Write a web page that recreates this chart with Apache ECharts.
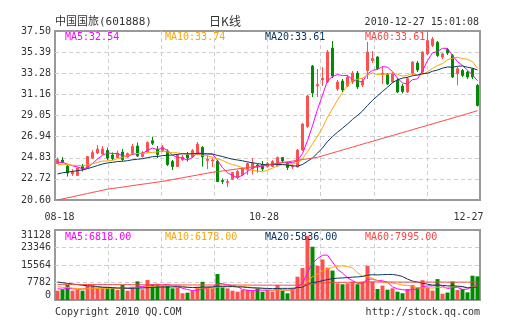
<!DOCTYPE html>
<html>
<head>
<meta charset="utf-8">
<script src="https://cdn.jsdelivr.net/npm/echarts@6/dist/echarts.min.js"></script>
<style>html,body{margin:0;padding:0;background:#fff;}#c{width:505px;height:330px;}</style>
</head>
<body>
<div id="c"></div>
<script>
// ---------- data ----------
const dates = ['08-18','08-19','08-20','08-23','08-24','08-25','08-26','08-27','08-30','08-31',
 '09-01','09-02','09-03','09-06','09-07','09-08','09-09','09-10','09-13','09-14','09-15','09-16','09-17','09-20','09-27','09-28','09-29','09-30',
 '10-08','10-11','10-12','10-13','10-14','10-15','10-18','10-19','10-20','10-21','10-22','10-25','10-26','10-27','10-28','10-29',
 '11-01','11-02','11-03','11-04','11-05','11-08','11-09','11-10','11-11','11-12','11-15','11-16','11-17','11-18','11-19','11-22','11-23','11-24','11-25','11-26','11-29','11-30',
 '12-01','12-02','12-03','12-06','12-07','12-08','12-09','12-10','12-13','12-14','12-15','12-16','12-17','12-20','12-21','12-22','12-23','12-24','12-27'];

const opens = [24.25,24.60,24.00,23.20,23.05,23.95,23.80,24.80,25.30,25.20,
 25.55,25.10,24.85,25.40,24.90,25.15,26.00,24.95,25.40,26.53,
 25.70,25.50,25.50,24.45,23.95,24.65,25.10,24.90,25.20,25.85,
 24.55,24.50,24.50,22.55,22.35,22.70,22.85,23.15,23.60,23.70,
 24.10,24.10,23.95,23.95,24.00,24.85,24.30,23.90,23.90,25.60,
 27.95,34.00,32.00,32.60,32.40,35.80,31.70,32.50,32.00,32.40,
 33.30,32.10,33.55,34.55,34.90,33.15,33.20,32.40,32.57,32.00,
 31.41,33.23,34.30,33.39,35.21,36.04,36.37,34.88,35.65,35.05,
 33.23,33.56,33.39,33.70,32.07];
const closes = [24.65,24.35,23.30,23.45,23.80,23.70,24.95,25.35,25.70,25.70,
 24.80,24.75,25.30,24.65,25.25,25.95,25.00,25.35,26.35,26.27,
 25.15,25.90,24.15,23.95,25.10,24.90,24.80,25.55,26.20,24.90,
 24.70,24.60,22.45,22.45,22.45,23.35,23.45,23.75,24.25,24.30,
 23.90,23.70,24.25,24.45,24.85,24.50,23.85,24.00,25.60,28.20,
 31.00,31.30,32.15,32.80,35.40,33.00,32.40,31.60,32.90,33.30,
 31.90,32.50,35.40,34.75,33.75,33.30,32.20,33.20,31.40,31.45,
 32.73,34.39,33.60,35.38,36.54,36.70,35.05,35.21,35.30,32.90,
 33.72,33.06,32.90,32.90,30.05];
const lows = [24.20,24.25,22.95,23.00,23.00,23.45,23.75,24.70,25.20,25.15,
 24.60,24.60,24.80,24.50,24.85,25.10,24.90,24.85,25.30,26.10,
 24.80,25.40,24.00,23.60,23.90,24.50,24.45,24.85,25.10,23.95,
 23.70,23.90,22.40,22.20,21.90,22.60,22.70,23.00,23.10,23.15,
 23.35,23.50,23.85,23.90,23.95,24.30,23.60,23.70,23.85,25.50,
 27.80,30.90,30.90,32.00,32.30,32.80,31.50,31.40,31.90,32.20,
 31.70,31.90,32.70,34.30,33.60,32.20,32.10,32.30,31.30,31.25,
 31.30,33.10,33.40,33.30,35.10,35.90,34.90,34.70,35.10,32.80,
 32.07,32.90,32.70,32.70,29.95];
const highs = [24.85,24.90,24.10,23.70,23.85,24.20,25.00,25.60,26.10,26.00,
 25.85,25.35,25.55,25.70,25.35,26.20,26.35,25.50,26.45,26.93,
 26.00,26.10,25.65,24.60,25.20,25.10,25.40,25.70,26.40,26.00,
 25.10,24.80,24.60,22.75,22.70,23.40,23.60,23.85,24.35,24.80,
 24.20,24.50,24.40,24.60,24.95,24.90,24.40,24.15,25.70,28.30,
 31.10,34.10,33.70,33.90,35.60,36.50,32.60,32.70,33.10,33.50,
 33.50,32.80,36.40,35.50,35.00,33.90,33.30,33.40,32.80,32.20,
 32.90,34.50,34.50,35.50,37.50,36.90,36.50,35.30,35.80,35.20,
 33.90,33.70,33.50,33.80,32.20];
// closes before 08-18 (oldest first), used for the MA5/10/20 lead-in
const preCloses = [21.9,22.0,22.1,22.2,22.3,22.3,22.4,22.5,22.6,22.7,
 23.5,23.8,24.0,24.1,24.1,24.0,24.2,24.3,24.35];
// MA60 line
const ma60 = [20.60,20.71,20.82,20.92,21.03,21.14,21.25,21.36,21.46,21.57,
 21.68,21.75,21.82,21.89,21.96,22.04,22.11,22.18,22.25,22.32,
 22.39,22.46,22.55,22.64,22.73,22.82,22.92,23.01,23.10,23.19,
 23.28,23.37,23.44,23.50,23.57,23.64,23.71,23.77,23.84,23.91,
 23.97,24.04,24.11,24.19,24.26,24.34,24.41,24.49,24.57,24.64,
 24.72,24.79,24.87,25.02,25.16,25.31,25.45,25.60,25.75,25.89,
 26.04,26.18,26.33,26.47,26.62,26.76,26.91,27.05,27.20,27.34,
 27.49,27.63,27.78,27.92,28.07,28.21,28.36,28.50,28.65,28.79,
 28.94,29.08,29.23,29.38,29.53];

const volumes = [4150,4740,6660,4150,4500,4150,6400,6500,5180,5180,
 5180,5180,4440,6660,4150,5920,8290,4740,8880,6660,
 6660,6220,6220,5180,5500,3000,3260,4150,5920,8100,
 5920,5180,11540,5620,5180,4150,3700,4440,4440,4150,
 5180,3700,4440,3700,6660,4150,2960,5180,10360,14200,
 28560,23680,15240,18000,14360,13100,7400,7000,7400,8140,
 7000,8140,15240,8140,4880,6400,4600,5200,3700,3000,
 4900,6700,5600,8800,5700,4200,9300,2800,3300,8200,
 4400,4900,3400,10800,10500];
const preVolumes = [11000,12500,9800,10500,9000,11200,8800,10200,9600,8400,
 7500,6200,7800,6000,6500,5600,4800,5300,5150];
const volMa60 = [6950,6950,6940,6930,6920,6910,6900,6890,6880,6870,
 6860,6850,6840,6830,6820,6810,6800,6790,6780,6770,
 6760,6750,6740,6730,6720,6710,6700,6690,6680,6680,
 6680,6670,6700,6690,6680,6670,6660,6650,6640,6630,
 6620,6610,6600,6590,6600,6590,6580,6570,6620,6700,
 6950,7250,7420,7600,7720,7830,7860,7870,7880,7900,
 7900,7920,8050,8060,8030,8030,8010,8000,7980,7960,
 7950,7960,7960,7990,7990,7970,8000,7970,7950,7960,
 7950,7960,7950,7980,7995];

const priceTickLabels = ['20.60','22.72','24.83','26.94','29.05','31.16','33.28','35.39','37.50'];
const volTickLabels = ['0','7782','15564','23346','31128'];
const xTickLabels = ['08-18','10-28','12-27'];

const maNames = ['MA5','MA10','MA20','MA60'];
const priceMaLast = ['32.54','33.74','33.61','33.61'];
const volMaLast = ['6818.00','6178.00','5836.00','7995.00'];

const stockTitle = '中国国旅(601888)';
const chartTitle = '日K线';
const timeStamp = '2010-12-27 15:01:08';
const footLeft = 'Copyright 2010 QQ.COM';
const footRight = 'http://stock.qq.com';

// ---------- helpers ----------
function movingAverage(values, prior, n) {
  const all = prior.concat(values);
  const off = prior.length;
  return values.map((_, i) => {
    const end = off + i + 1, start = end - n;
    if (start < 0) return null;
    let s = 0;
    for (let k = start; k < end; k++) s += all[k];
    return +(s / n).toFixed(3);
  });
}

const UP = '#ff5050', DOWN = '#008c00';
const maColors = ['#ff00ff', '#ffa500', '#0a3764', '#ff4646'];
const MONO = 'DejaVu Sans Mono';
const TXT = '#333';

const pMin = parseFloat(priceTickLabels[0]);
const pMax = parseFloat(priceTickLabels[priceTickLabels.length - 1]);
const pInt = (pMax - pMin) / (priceTickLabels.length - 1);
const vMax = parseFloat(volTickLabels[volTickLabels.length - 1]);
const vInt = vMax / (volTickLabels.length - 1);

const priceMAs = [movingAverage(closes, preCloses, 5), movingAverage(closes, preCloses, 10), movingAverage(closes, preCloses, 20), ma60];
const volMAs = [movingAverage(volumes, preVolumes, 5), movingAverage(volumes, preVolumes, 10), movingAverage(volumes, preVolumes, 20), volMa60];

const dash = { type: [4, 3], color: '#cfcfcf', width: 1 };

const gridCommon = { left: 55, right: 25, show: true, borderColor: '#9a9a9a', borderWidth: 2, backgroundColor: 'transparent' };

const hiddenAxisBits = { axisLine: { show: false }, axisTick: { show: false } };

const option = {
  animation: false,
  backgroundColor: '#ffffff',
  grid: [
    Object.assign({ top: 31, height: 169 }, gridCommon),
    Object.assign({ top: 230, height: 70 }, gridCommon)
  ],
  xAxis: [
    Object.assign({
      type: 'category', gridIndex: 0, data: dates, boundaryGap: true,
      splitLine: { show: false },
      axisLabel: {
        interval: (idx, val) => xTickLabels.includes(val),
        formatter: (val) => '{l' + xTickLabels.indexOf(val) + '|' + val + '}',
        margin: 12,
        fontSize: 10, fontFamily: MONO, color: TXT,
        rich: {
          l0: { fontSize: 10, fontFamily: MONO, color: TXT, padding: [0, 0, 0, 4] },
          l1: { fontSize: 10, fontFamily: MONO, color: TXT, padding: [0, 7, 0, 0] },
          l2: { fontSize: 10, fontFamily: MONO, color: TXT, padding: [0, 18, 0, 0] }
        }
      }
    }, hiddenAxisBits),
    Object.assign({
      type: 'category', gridIndex: 1, data: dates, boundaryGap: true,
      axisLabel: { show: false }, splitLine: { show: false }
    }, hiddenAxisBits),
    Object.assign({
      type: 'value', gridIndex: 0, min: 0, max: 8, interval: 1,
      axisLabel: { show: false },
      splitLine: { show: true, showMinLine: false, showMaxLine: false, lineStyle: dash }
    }, hiddenAxisBits),
    Object.assign({
      type: 'value', gridIndex: 1, min: 0, max: 8, interval: 1,
      axisLabel: { show: false },
      splitLine: { show: true, showMinLine: false, showMaxLine: false, lineStyle: dash }
    }, hiddenAxisBits)
  ],
  yAxis: [
    Object.assign({
      type: 'value', gridIndex: 0, min: pMin, max: pMax, interval: pInt, scale: true,
      axisLabel: {
        margin: 4, fontSize: 10, fontFamily: MONO, color: TXT,
        formatter: (v) => priceTickLabels[Math.round((v - pMin) / pInt)] || ''
      },
      splitLine: { show: true, showMinLine: false, showMaxLine: false, lineStyle: dash }
    }, hiddenAxisBits),
    Object.assign({
      type: 'value', gridIndex: 1, min: 0, max: vMax, interval: vInt,
      axisLabel: {
        margin: 4, fontSize: 10, fontFamily: MONO, color: TXT,
        verticalAlignMinLabel: 'bottom', verticalAlignMaxLabel: 'top',
        formatter: (v) => volTickLabels[Math.round(v / vInt)] || ''
      },
      splitLine: { show: true, showMinLine: false, showMaxLine: false, lineStyle: dash }
    }, hiddenAxisBits)
  ],
  series: []
};

option.series.push({
  type: 'candlestick', xAxisIndex: 0, yAxisIndex: 0, barWidth: 3,
  data: dates.map((_, i) => [opens[i], closes[i], lows[i], highs[i]]),
  itemStyle: { color: UP, color0: DOWN, borderColor: UP, borderColor0: DOWN, borderWidth: 1 },
  silent: true
});
priceMAs.forEach((arr, k) => {
  option.series.push({
    type: 'line', name: maNames[k], xAxisIndex: 0, yAxisIndex: 0, data: arr,
    showSymbol: false, symbol: 'none', silent: true,
    lineStyle: { color: maColors[k], width: 1 }, z: 3
  });
});
option.series.push({
  type: 'bar', xAxisIndex: 1, yAxisIndex: 1, barWidth: 4, data: volumes, silent: true,
  itemStyle: { color: (p) => closes[p.dataIndex] >= opens[p.dataIndex] ? UP : DOWN }
});
volMAs.forEach((arr, k) => {
  option.series.push({
    type: 'line', name: 'V' + maNames[k], xAxisIndex: 1, yAxisIndex: 1, data: arr,
    showSymbol: false, symbol: 'none', silent: true,
    lineStyle: { color: maColors[k], width: 1 }, z: 3
  });
});

const g = [];
function txt(text, x, y, opts) {
  g.push({
    type: 'text', x: x, y: y, z: 100, silent: true,
    style: Object.assign({ text: text, fontSize: 10, fontFamily: MONO, fill: TXT, align: 'left', verticalAlign: 'middle' }, opts || {})
  });
}
txt(stockTitle, 55, 22, { fontSize: 11, fontFamily: "'DejaVu Sans Mono','Noto Sans CJK SC'" });
txt(chartTitle, 225, 21, { fontSize: 12, fontFamily: "'Noto Sans CJK SC'", align: 'center' });
txt(timeStamp, 479, 22, { align: 'right' });
maNames.forEach((n, k) => {
  txt(n + ':' + priceMaLast[k], 65 + 100 * k, 37, { fill: maColors[k] });
  txt(n + ':' + volMaLast[k], 65 + 100 * k, 237, { fill: maColors[k] });
});
txt(footLeft, 55, 312);
txt(footRight, 480, 312, { align: 'right' });
option.graphic = g;

const chart = echarts.init(document.getElementById('c'), null, { renderer: 'canvas' });
chart.setOption(option);
</script>
</body>
</html>
